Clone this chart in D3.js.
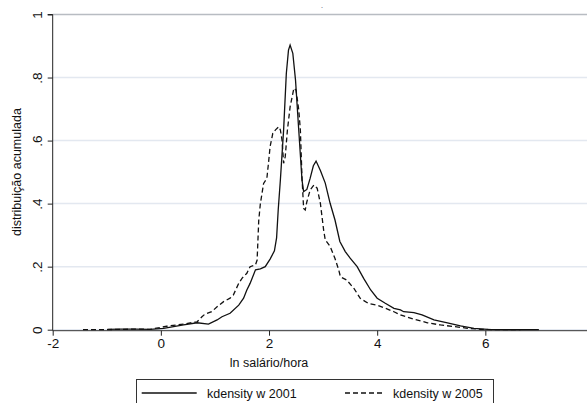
<!DOCTYPE html>
<html>
<head>
<meta charset="utf-8">
<script src="https://cdn.jsdelivr.net/npm/d3@7"></script>
<style>
  body { margin: 0; background: #fff; }
  svg { display: block; font-family: "Liberation Sans", Arial, sans-serif; }
</style>
</head>
<body>
<div id="chart"></div>
<script>
// ln salario/hora vs density
const x2001 = [-0.99, -0.75, -0.48, -0.2, 0.05, 0.42, 0.67, 0.88, 1.04, 1.13, 1.28, 1.44, 1.53, 1.59, 1.65, 1.75, 1.84, 1.93, 2.02, 2.1, 2.14, 2.17, 2.21, 2.27, 2.32, 2.36, 2.39, 2.44, 2.49, 2.55, 2.61, 2.64, 2.7, 2.76, 2.82, 2.87, 2.95, 3.04, 3.13, 3.22, 3.31, 3.41, 3.5, 3.63, 3.75, 3.88, 4.0, 4.15, 4.31, 4.43, 4.49, 4.68, 4.83, 5.05, 5.3, 5.54, 5.79, 6.04, 6.53, 6.99];
const y2001 = [0.001, 0.002, 0.002, 0.001, 0.004, 0.015, 0.022, 0.018, 0.031, 0.041, 0.052, 0.078, 0.1, 0.126, 0.147, 0.19, 0.193, 0.2, 0.224, 0.25, 0.291, 0.38, 0.475, 0.634, 0.813, 0.887, 0.903, 0.877, 0.792, 0.633, 0.475, 0.438, 0.445, 0.48, 0.52, 0.535, 0.505, 0.465, 0.401, 0.348, 0.28, 0.248, 0.227, 0.2, 0.163, 0.126, 0.1, 0.084, 0.068, 0.063, 0.057, 0.054, 0.047, 0.031, 0.022, 0.012, 0.0045, 0.0013, 0.0, 0.0];

const x2005 = [-1.44, -1.12, -0.75, -0.38, -0.2, 0.11, 0.42, 0.67, 0.76, 0.82, 0.94, 1.04, 1.16, 1.28, 1.34, 1.44, 1.5, 1.59, 1.65, 1.75, 1.78, 1.81, 1.84, 1.9, 1.96, 1.99, 2.02, 2.07, 2.12, 2.18, 2.21, 2.24, 2.27, 2.3, 2.34, 2.39, 2.46, 2.5, 2.55, 2.58, 2.61, 2.64, 2.67, 2.7, 2.76, 2.83, 2.89, 2.95, 3.01, 3.04, 3.13, 3.22, 3.29, 3.32, 3.44, 3.57, 3.69, 3.84, 4.0, 4.15, 4.31, 4.43, 4.68, 4.93, 5.17, 5.42, 5.67, 5.91, 6.22, 6.65];
const y2005 = [0.0, 0.0, 0.001, 0.002, 0.001, 0.011, 0.018, 0.025, 0.041, 0.05, 0.057, 0.073, 0.089, 0.1, 0.11, 0.147, 0.163, 0.179, 0.2, 0.206, 0.221, 0.347, 0.4, 0.464, 0.48, 0.528, 0.581, 0.623, 0.634, 0.644, 0.634, 0.602, 0.528, 0.549, 0.633, 0.707, 0.766, 0.76, 0.697, 0.633, 0.482, 0.385, 0.38, 0.406, 0.443, 0.459, 0.449, 0.401, 0.316, 0.285, 0.264, 0.226, 0.189, 0.168, 0.157, 0.131, 0.099, 0.083, 0.078, 0.068, 0.057, 0.047, 0.033, 0.022, 0.015, 0.01, 0.0045, 0.0013, 0.0, 0.0];

const xTicks = [-2, 0, 2, 4, 6];
const yTicks = [0, 0.2, 0.4, 0.6, 0.8, 1];
const yTickLabels = ['0', '.2', '.4', '.6', '.8', '1'];
const seriesNames = ['kdensity w 2001', 'kdensity w 2005'];

const width = 587, height = 403;
const margin = { top: 14.5, right: 0, bottom: 73.3, left: 52.7 };

const svg = d3.select('#chart').append('svg')
  .attr('width', width)
  .attr('height', height);

const x = d3.scaleLinear()
  .domain([-2, 7.88])
  .range([margin.left, width - margin.right]);

const y = d3.scaleLinear()
  .domain([0, 1])
  .range([height - margin.bottom, margin.top]);

// grid
svg.append('g')
  .selectAll('line')
  .data(yTicks)
  .enter()
  .append('line')
  .attr('x1', x(-2))
  .attr('x2', width)
  .attr('y1', d => y(d))
  .attr('y2', d => y(d))
  .attr('stroke', d => d === 1 ? '#b8bcc2' : '#e3e8f0')
  .attr('stroke-width', d => d === 1 ? 1.3 : 1.5);

// y axis
const yAxis = svg.append('g')
  .attr('transform', `translate(${x(-2)},0)`)
  .call(d3.axisLeft(y).tickValues(yTicks).tickSize(5).tickFormat((d, i) => yTickLabels[i]));
yAxis.select('.domain').attr('stroke', '#222').attr('d', `M-5,${y(1)}H0V${y(0) + 1}`);
yAxis.selectAll('.tick line').attr('stroke', '#222');
yAxis.selectAll('.tick text')
  .attr('font-size', 13.5)
  .attr('fill', '#111')
  .attr('x', 0)
  .attr('dy', 0)
  .attr('text-anchor', 'middle')
  .attr('transform', 'translate(-11,0) rotate(-90)');

// x axis
const xAxis = svg.append('g')
  .attr('transform', `translate(0,${y(0) + 1})`)
  .call(d3.axisBottom(x).tickValues(xTicks).tickSize(5).tickFormat(d => String(d)));
xAxis.select('.domain').attr('stroke', '#333').attr('d', `M${x(-2)},0H${width}`);
xAxis.selectAll('.tick line').attr('stroke', '#222');
xAxis.selectAll('.tick text')
  .attr('font-size', 13.5)
  .attr('fill', '#111')
  .attr('y', 8);

svg.append('text')
  .attr('x', x(2))
  .attr('y', 367)
  .attr('text-anchor', 'middle')
  .attr('font-size', 12.5)
  .attr('fill', '#111')
  .text('ln salário/hora');

svg.append('text')
  .attr('transform', `translate(21,${(y(0) + y(1)) / 2}) rotate(-90)`)
  .attr('text-anchor', 'middle')
  .attr('font-size', 12.5)
  .attr('fill', '#111')
  .text('distribuição acumulada');

// title (just a dot in the original)
svg.append('text')
  .attr('x', 322)
  .attr('y', 8)
  .attr('text-anchor', 'middle')
  .attr('font-size', 7)
  .attr('fill', '#1e2f50')
  .text('.');

const line = d3.line()
  .x(d => x(d[0]))
  .y(d => y(d[1]));

const s2001 = d3.zip(x2001, y2001);
const s2005 = d3.zip(x2005, y2005);

svg.append('path')
  .datum(s2005)
  .attr('fill', 'none')
  .attr('stroke', '#111')
  .attr('stroke-width', 1.3)
  .attr('stroke-dasharray', '5,3')
  .attr('d', line);

svg.append('path')
  .datum(s2001)
  .attr('fill', 'none')
  .attr('stroke', '#111')
  .attr('stroke-width', 1.3)
  .attr('d', line);

// legend
const legend = svg.append('g');
legend.append('rect')
  .attr('x', 136.5)
  .attr('y', 379.5)
  .attr('width', 357)
  .attr('height', 30)
  .attr('fill', '#fff')
  .attr('stroke', '#333')
  .attr('stroke-width', 1);

const items = [
  { name: seriesNames[0], x1: 141.7, x2: 196.7, tx: 207, dash: null },
  { name: seriesNames[1], x1: 345, x2: 383, tx: 393, dash: '5,3' }
];
items.forEach(it => {
  legend.append('line')
    .attr('x1', it.x1).attr('x2', it.x2)
    .attr('y1', 393).attr('y2', 393)
    .attr('stroke', '#111')
    .attr('stroke-width', 1.3)
    .attr('stroke-dasharray', it.dash);
  legend.append('text')
    .attr('x', it.tx)
    .attr('y', 397.5)
    .attr('font-size', 12.5)
    .attr('fill', '#111')
    .text(it.name);
});
</script>
</body>
</html>
